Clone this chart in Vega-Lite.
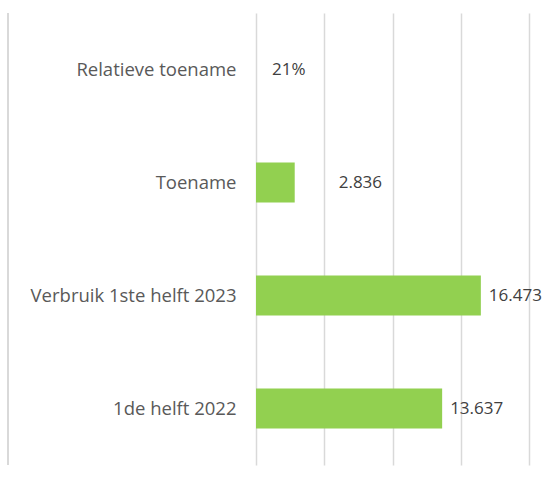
{
  "$schema": "https://vega.github.io/schema/vega-lite/v6.json",
  "width": 273,
  "height": 452,
  "autosize": {"type": "none"},
  "padding": {"left": 256, "top": 13, "right": 23, "bottom": 21},
  "background": "white",
  "config": {"view": {"stroke": null}, "font": "Open Sans"},
  "data": {
    "values": [
      {"categorie": "Relatieve toename", "waarde": 0.21, "label": "21%"},
      {"categorie": "Toename", "waarde": 2836, "label": "2.836"},
      {"categorie": "Verbruik 1ste helft 2023", "waarde": 16473, "label": "16.473"},
      {"categorie": "1de helft 2022", "waarde": 13637, "label": "13.637"}
    ]
  },
  "encoding": {
    "y": {
      "field": "categorie",
      "type": "nominal",
      "sort": null,
      "scale": {"paddingInner": 0.646, "paddingOuter": 0.323},
      "axis": {
        "title": null,
        "ticks": false,
        "domain": false,
        "labelPadding": 20,
        "labelFontSize": 18.5,
        "labelLimit": 300,
        "labelColor": "#595959",
        "labelFont": "Open Sans"
      }
    },
    "x": {
      "field": "waarde",
      "type": "quantitative",
      "scale": {"domain": [0, 20000], "nice": false, "clamp": false},
      "axis": {
        "title": null,
        "labels": false,
        "ticks": false,
        "domain": false,
        "values": [0, 5000, 10000, 15000, 20000],
        "gridColor": "#d9d9d9",
        "gridWidth": 1.5
      }
    }
  },
  "layer": [
    {"mark": {"type": "bar", "color": "#92d050"}},
    {
      "transform": [{"filter": "datum.categorie === 'Verbruik 1ste helft 2023' || datum.categorie === '1de helft 2022'"}],
      "mark": {"type": "text", "align": "left", "dx": 8, "fontSize": 17, "color": "#404040", "font": "Open Sans"},
      "encoding": {"text": {"field": "label"}}
    },
    {
      "transform": [{"filter": "datum.categorie === 'Toename'"}],
      "mark": {"type": "text", "align": "left", "dx": 44, "fontSize": 17, "color": "#404040", "font": "Open Sans"},
      "encoding": {"text": {"field": "label"}}
    },
    {
      "transform": [{"filter": "datum.categorie === 'Relatieve toename'"}],
      "mark": {"type": "text", "align": "left", "dx": 16, "fontSize": 17, "color": "#404040", "font": "Open Sans"},
      "encoding": {"text": {"field": "label"}}
    },
    {
      "mark": {"type": "rule", "color": "#d9d9d9", "strokeWidth": 2},
      "encoding": {"x": {"datum": -18168}, "y": null}
    }
  ]
}
